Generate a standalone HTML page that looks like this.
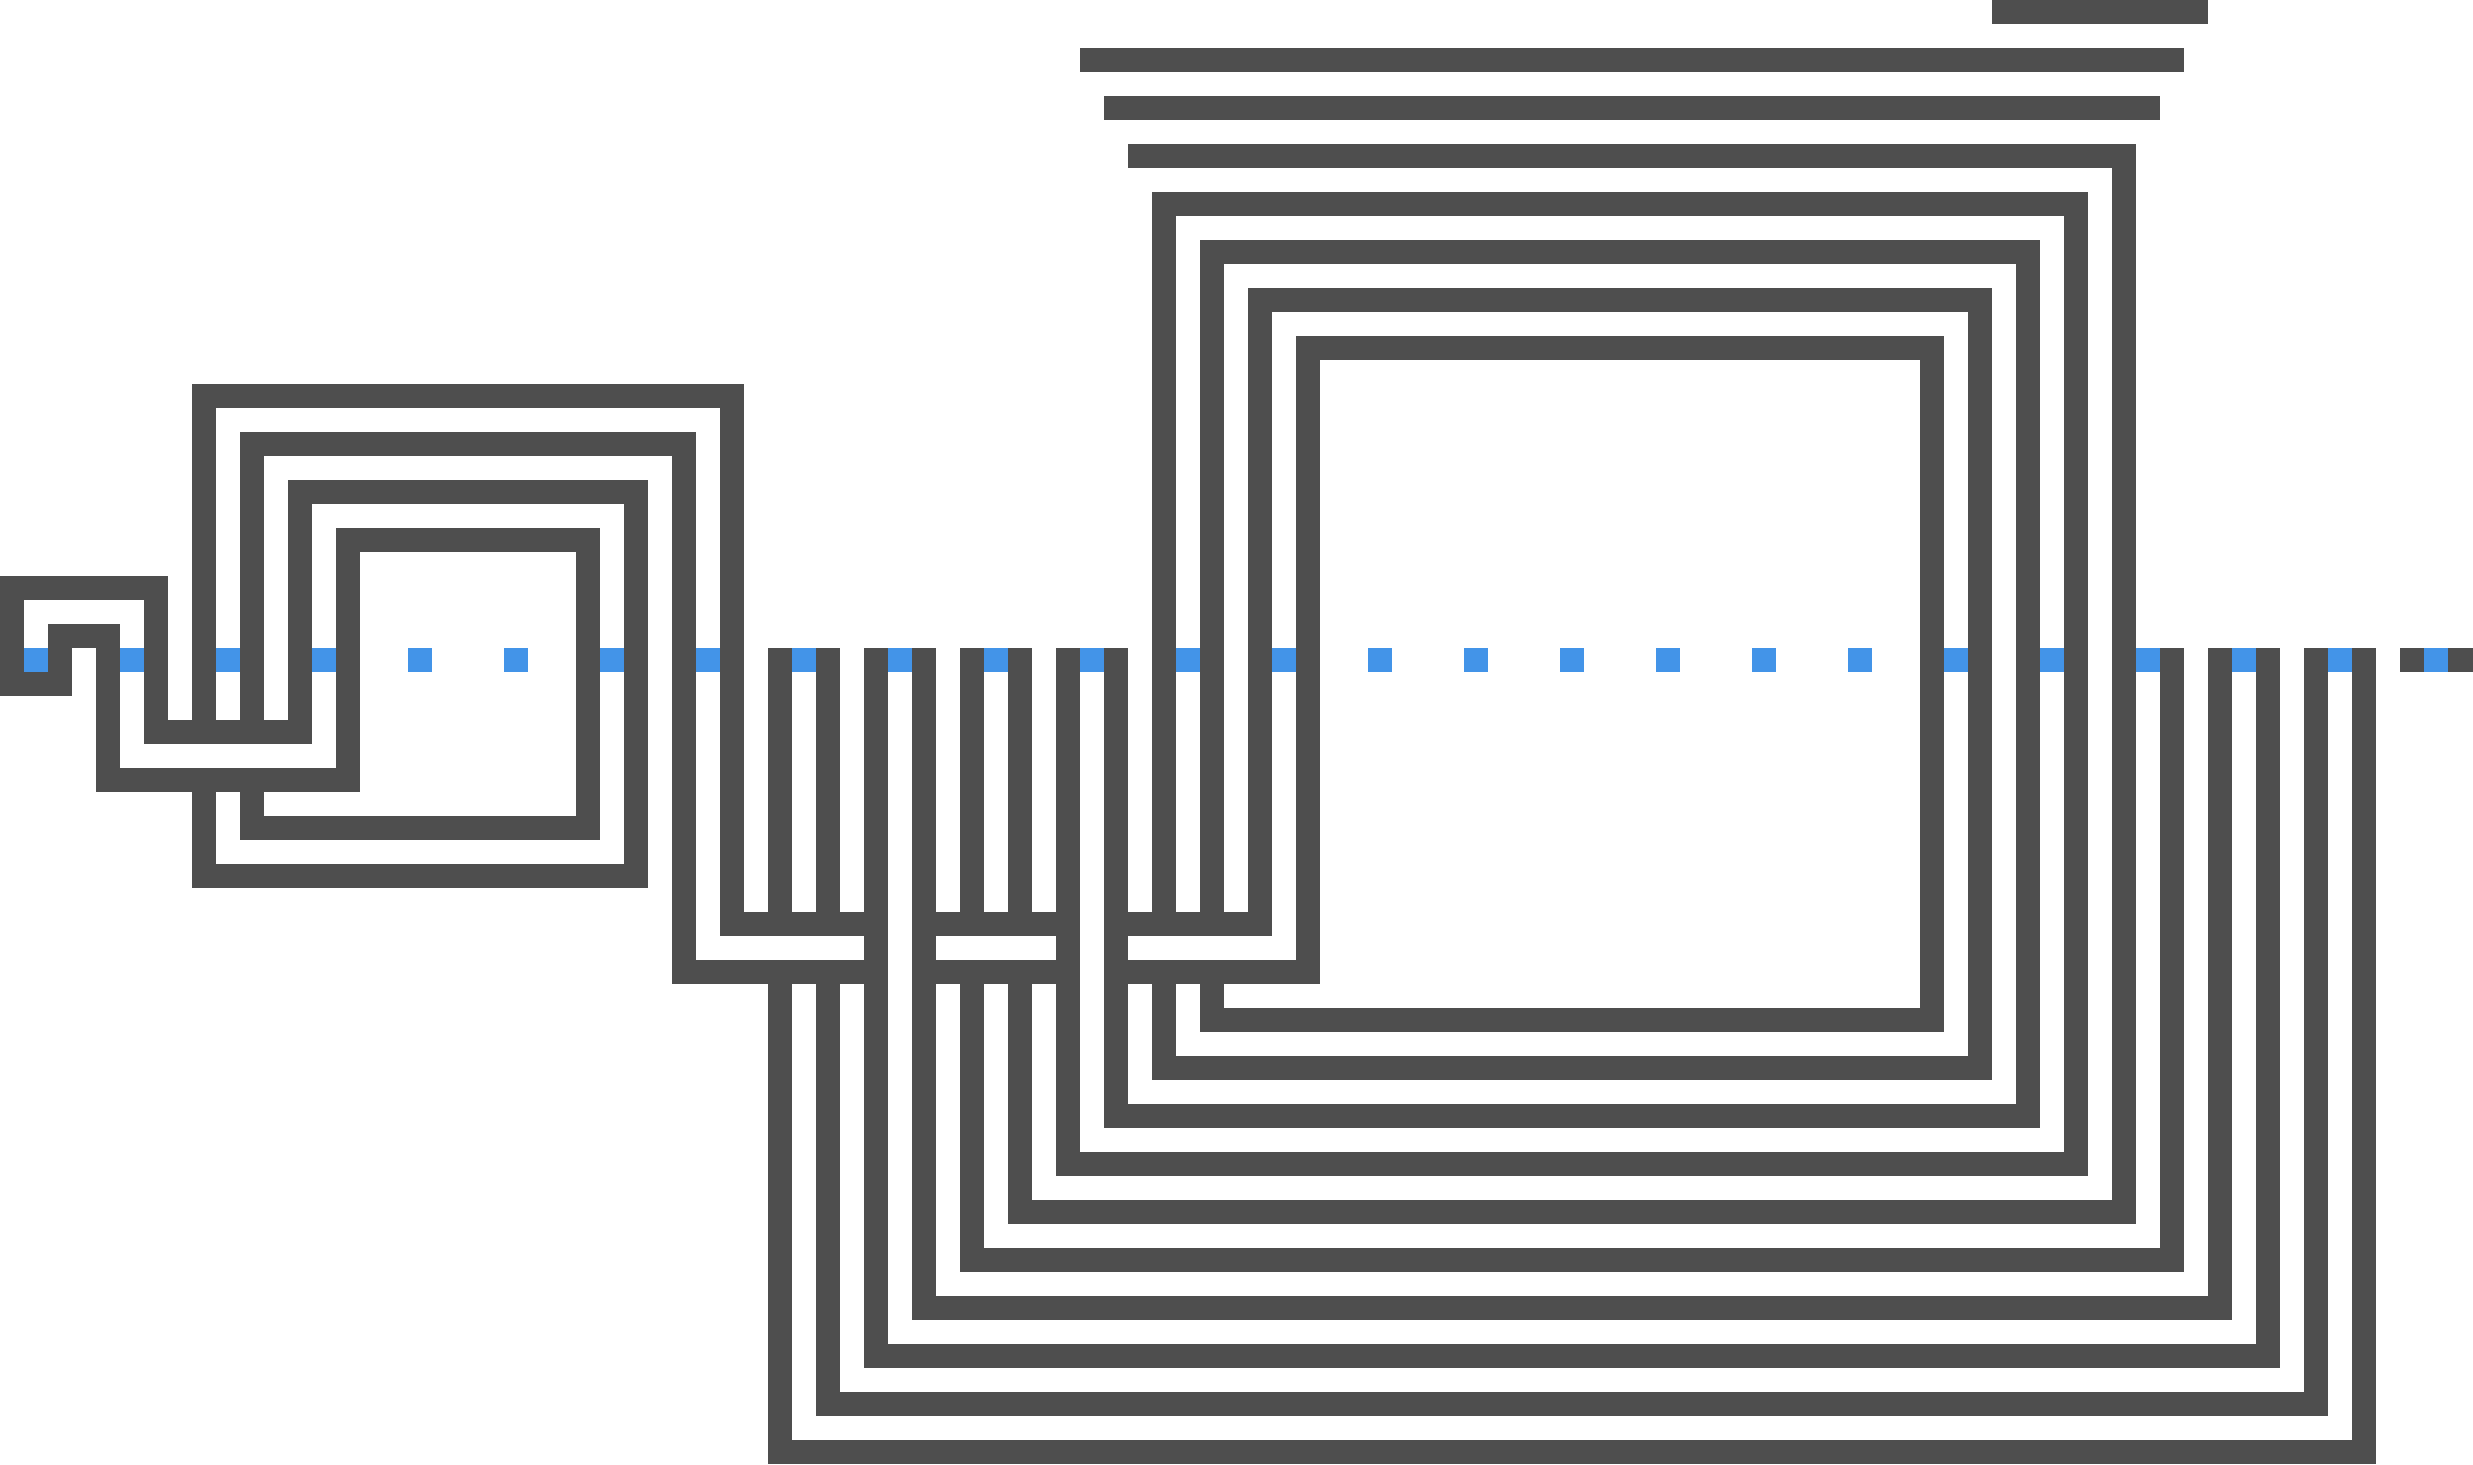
<!DOCTYPE html>
<html><head><meta charset="utf-8"><style>html,body{margin:0;padding:0;background:#fff}svg{display:block}</style></head>
<body>
<svg id="s" xmlns="http://www.w3.org/2000/svg" width="2473" height="1465" viewBox="0 0 2473 1465">
<rect width="2473" height="1465" fill="#fff"/>
<g fill="#4e4e4e">
<rect x="1992" y="0" width="216" height="24"/>
<rect x="1080" y="48" width="1104" height="24"/>
<rect x="1104" y="96" width="1056" height="24"/>
<rect x="1128" y="144" width="1008" height="24"/>
<rect x="2400" y="648" width="73" height="24"/>
</g>
<g id="g" fill="#4e4e4e"></g>
<g id="d" fill="#4394e8"></g>
<script>
var H=[[0,3,12],[0,1,14],[1,2,13],[2,7,16],[7,12,11],[5,12,17],[4,13,18],[6,13,10],[3,6,15],[4,15,8],[5,14,9],[15,18,19],[14,18,20],[19,22,19],[19,22,20],[23,26,19],[23,27,20],[24,43,4],[25,42,5],[26,41,6],[27,40,7],[25,40,21],[24,41,22],[23,42,23],[22,43,24],[21,44,25],[20,45,26],[19,46,27],[18,47,28],[17,48,29],[16,49,30]];
var V=[[0,12,14],[1,13,14],[2,13,16],[3,12,15],[4,8,15],[4,16,18],[5,9,15],[5,16,17],[6,10,15],[7,11,16],[12,11,17],[13,10,18],[14,9,20],[15,8,19],[16,13.5,19],[16,20,30],[17,13.5,19],[17,20,29],[18,13.5,28],[19,13.5,27],[20,13.5,19],[20,20,26],[21,13.5,19],[21,20,25],[22,13.5,24],[23,13.5,23],[24,4,19],[24,20,22],[25,5,19],[25,20,21],[26,6,19],[27,7,20],[40,7,21],[41,6,22],[42,5,23],[43,4,24],[44,3,25],[45,13.5,26],[46,13.5,27],[47,13.5,28],[48,13.5,29],[49,13.5,30]];
var NS="http://www.w3.org/2000/svg",g=document.getElementById("g"),d=document.getElementById("d");
function r(p,x,y,w,h){var e=document.createElementNS(NS,"rect");e.setAttribute("x",x);e.setAttribute("y",y);e.setAttribute("width",w);e.setAttribute("height",h);p.appendChild(e);}
H.forEach(function(a){r(g,48*a[0],48*a[2],48*(a[1]-a[0])+24,24);});
V.forEach(function(a){r(g,48*a[0],48*a[1],24,48*(a[2]-a[1])+24);});
for(var k=0;k<26;k++){r(d,24+96*k,648,24,24);}
</script>
</svg>
</body></html>
